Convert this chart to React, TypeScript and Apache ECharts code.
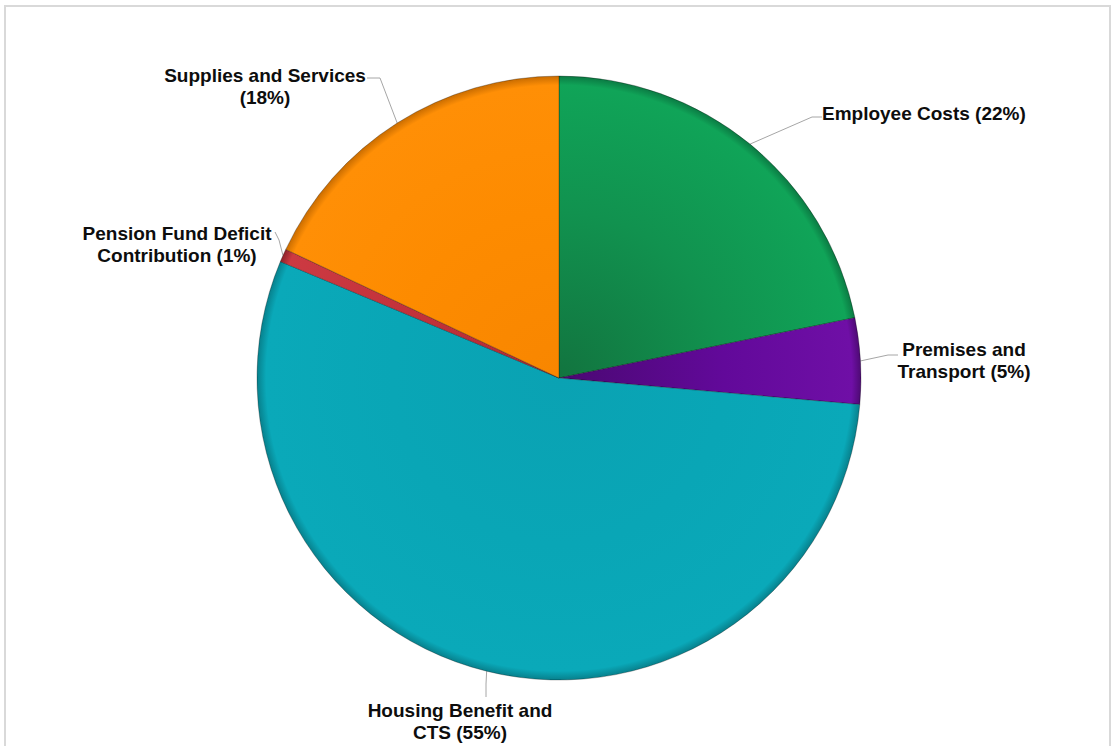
import React, { useEffect, useRef } from 'react';
import * as echarts from 'echarts';

// Slices, clockwise from 12 o'clock
const categories = [
  'Employee Costs',
  'Premises and Transport',
  'Housing Benefit and CTS',
  'Pension Fund Deficit Contribution',
  'Supplies and Services',
];
// Label text as printed on the chart (line breaks included)
const labelNames = [
  'Employee Costs',
  'Premises and\nTransport',
  'Housing Benefit and\nCTS',
  'Pension Fund Deficit\nContribution',
  'Supplies and Services\n',
];
// Share of spend (%)
const shares = [21.8, 4.6, 54.9, 0.7, 18.0];

// [inner, mid, outer, rim] colour stops per slice
const palette = [
  ['#12743f', '#11924f', '#10a458', '#0b7a43'],
  ['#4a0872', '#62099a', '#6f0fa6', '#4d0a73'],
  ['#0aa2b3', '#09a6b6', '#0aa9b9', '#07808c'],
  ['#b02a33', '#c3323b', '#cc3a42', '#8e2229'],
  ['#f88600', '#fd8b00', '#ff8f06', '#c96c00'],
];

const CX = 559;
const CY = 378;
const R = 302;

// label box placement (anchor x / y, alignment, leader polyline after the sector-edge start point)
const labelBoxes: any[] = [
  { x: 822, y: 113, align: 'left', line: [[812, 117], [822, 117]] },
  { x: 964, y: 360, align: 'center', line: [[888, 355], [898, 355]] },
  { x: 460, y: 721, align: 'center', line: [[486, 684], [486, 697]] },
  { x: 177, y: 244, align: 'center', line: [[279, 240], [275, 232]] },
  { x: 265, y: 86, align: 'center', line: [[380, 78], [367, 78]] },
];

export default function App() {
  const ref = useRef<HTMLDivElement>(null);

  useEffect(() => {
    document.body.style.margin = '0';
    if (!ref.current) return;
    const chart = echarts.init(ref.current, null, { renderer: 'svg' });

    const total = shares.reduce((a, b) => a + b, 0);
    const midAngles: number[] = [];
    let acc = 0;
    shares.forEach((v) => {
      midAngles.push(((acc + v / 2) / total) * Math.PI * 2);
      acc += v;
    });

    const data = categories.map((name, i) => ({
      name,
      value: shares[i],
      itemStyle: {
        color: new echarts.graphic.RadialGradient(
          CX,
          CY,
          R,
          [
            { offset: 0, color: palette[i][0] },
            { offset: 0.55, color: palette[i][1] },
            { offset: 0.97, color: palette[i][2] },
            { offset: 1, color: palette[i][3] },
          ],
          true
        ),
      },
    }));

    chart.setOption({
      animation: false,
      backgroundColor: '#ffffff',
      graphic: [
        {
          type: 'rect',
          shape: { x: 5, y: 6, width: 1105, height: 800 },
          style: { fill: 'none', stroke: '#d9d9d9', lineWidth: 2 },
          silent: true,
        },
      ],
      series: [
        {
          type: 'pie',
          center: [CX, CY],
          radius: R,
          startAngle: 90,
          clockwise: true,
          avoidLabelOverlap: false,
          data,
          itemStyle: {
            borderColor: 'rgba(0,0,0,0.28)',
            borderWidth: 1,
          },
          label: {
            show: true,
            position: 'outside',
            fontFamily: '"Liberation Sans", Arial, sans-serif',
            fontWeight: 'bold',
            fontSize: 19,
            lineHeight: 22,
            color: '#0d0d0d',
            formatter: (p: any) => {
              const n = labelNames[p.dataIndex];
              const pct = Math.round(p.value);
              return n.endsWith('\n') ? `${n}(${pct}%)` : `${n} (${pct}%)`;
            },
          },
          labelLine: {
            show: true,
            lineStyle: { color: '#a6a6a6', width: 1 },
          },
          labelLayout: (params: any) => {
            const i = params.dataIndex;
            const box = labelBoxes[i];
            const a = midAngles[i];
            const start =
              params.labelLinePoints && params.labelLinePoints[0]
                ? params.labelLinePoints[0]
                : [CX + R * Math.sin(a), CY - R * Math.cos(a)];
            return {
              x: box.x,
              y: box.y,
              align: box.align,
              verticalAlign: 'middle',
              labelLinePoints: [start, ...box.line],
              hideOverlap: false,
            };
          },
          emphasis: { disabled: true },
        },
      ],
    });

    return () => chart.dispose();
  }, []);

  return <div ref={ref} style={{ width: 1112, height: 746 }} />;
}
